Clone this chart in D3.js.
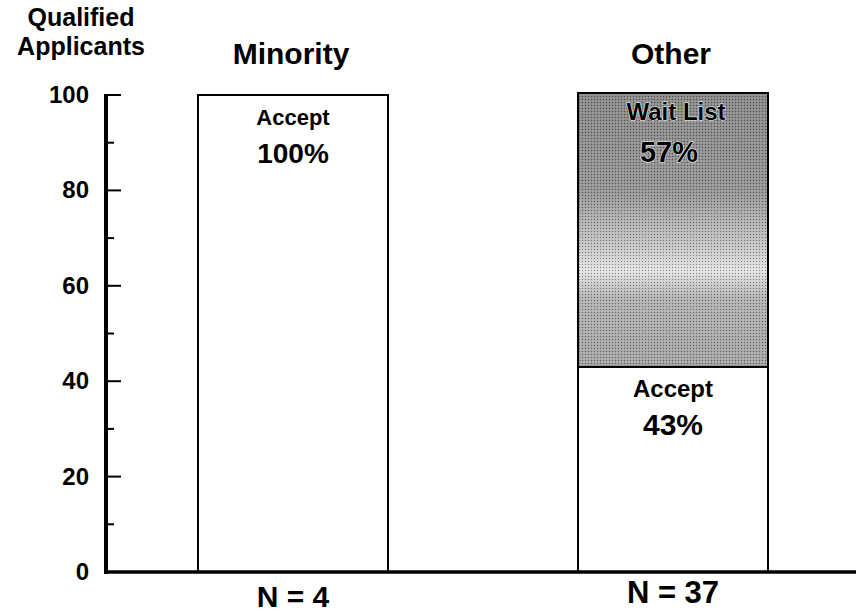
<!DOCTYPE html>
<html><head><meta charset="utf-8">
<script src="https://cdn.jsdelivr.net/npm/d3@7"></script>
<style>body{margin:0;background:#fff}text{font-family:"Liberation Sans",Arial,sans-serif;fill:#000;font-weight:bold}</style>
</head><body><svg id="c" width="856" height="614"></svg>
<script>
const categories = ["Minority", "Other"];
const nLabels = ["N = 4", "N = 37"];
const acceptValues = [100, 43];
const waitListValues = [0, 57];
const yTicks = [0, 20, 40, 60, 80, 100];
const yMinorTicks = [10, 30, 50, 70, 90];

const svg = d3.select("#c");
const y = d3.scaleLinear().domain([0, 100]).range([572, 95]);
const x = d3.scaleBand().domain(categories).range([103, 863]).paddingInner(0.5).paddingOuter(0.25);

const defs = svg.append("defs");
const g = defs.append("linearGradient").attr("id","wl").attr("x1",0).attr("y1",0).attr("x2",0).attr("y2",1);
[[0,"#868686"],[0.35,"#929292"],[0.55,"#c2c2c2"],[0.65,"#e2e2e2"],[0.75,"#b0b0b0"],[1,"#a2a2a2"]].forEach(s=>g.append("stop").attr("offset",s[0]).attr("stop-color",s[1]));
const p = defs.append("pattern").attr("id","dots").attr("width",3).attr("height",3).attr("patternUnits","userSpaceOnUse");
p.append("rect").attr("x",0).attr("y",0).attr("width",1).attr("height",1).attr("fill","#000").attr("opacity",0.4);
p.append("rect").attr("x",1.5).attr("y",1.5).attr("width",1).attr("height",1).attr("fill","#fff").attr("opacity",0.5);

// Accept bars
svg.selectAll("rect.acc").data(categories).join("rect")
  .attr("x", d=>x(d)).attr("width", x.bandwidth())
  .attr("y", (d,i)=>y(acceptValues[i])).attr("height",(d,i)=>y(0)-y(acceptValues[i]))
  .attr("fill","#fff").attr("stroke","#000").attr("stroke-width",2);
// Wait list
const wl = categories.map((d,i)=>({d, v0:acceptValues[i], v1:acceptValues[i]+waitListValues[i], v:waitListValues[i]})).filter(o=>o.v>0);
wl.forEach(o=>{
  svg.append("rect").attr("x",x(o.d)).attr("width",x.bandwidth()).attr("y",y(o.v1)-2).attr("height",y(o.v0)-y(o.v1)+2).attr("fill","url(#wl)");
  svg.append("rect").attr("x",x(o.d)).attr("width",x.bandwidth()).attr("y",y(o.v1)-2).attr("height",y(o.v0)-y(o.v1)+2).attr("fill","url(#dots)").attr("stroke","#000").attr("stroke-width",2);
});

// Axis
const ax = svg.append("g");
ax.append("line").attr("x1",106).attr("x2",106).attr("y1",y(100)-1).attr("y2",y(0)+2).attr("stroke","#000").attr("stroke-width",4);
ax.append("line").attr("x1",104).attr("x2",856).attr("y1",y(0)).attr("y2",y(0)).attr("stroke","#000").attr("stroke-width",3.5);
yTicks.forEach(t=>{
  if(t>0) ax.append("line").attr("x1",106).attr("x2",121).attr("y1",y(t)).attr("y2",y(t)).attr("stroke","#000").attr("stroke-width",2);
  ax.append("text").attr("x",89).attr("y",y(t)+8).attr("text-anchor","end").attr("font-size",24).text(t);
});
yMinorTicks.forEach(t=>ax.append("line").attr("x1",106).attr("x2",114).attr("y1",y(t)).attr("y2",y(t)).attr("stroke","#000").attr("stroke-width",2));

// Titles
svg.append("text").attr("x",81).attr("y",26).attr("text-anchor","middle").attr("font-size",25).text("Qualified");
svg.append("text").attr("x",81).attr("y",55).attr("text-anchor","middle").attr("font-size",25).text("Applicants");
const capSize = [22, 24], pctSize = [28, 30], nSize = [30, 31], nY = [607, 603];
categories.forEach((c,i)=>{
  const cx = x(c)+x.bandwidth()/2;
  svg.append("text").attr("x",cx-2).attr("y",64).attr("text-anchor","middle").attr("font-size",30).text(c);
  svg.append("text").attr("x",cx).attr("y",nY[i]).attr("text-anchor","middle").attr("font-size",nSize[i]).text(nLabels[i]);
  const top = y(acceptValues[i]);
  svg.append("text").attr("x",cx).attr("y",top+30).attr("text-anchor","middle").attr("font-size",capSize[i]).text("Accept");
  svg.append("text").attr("x",cx).attr("y",top+68).attr("text-anchor","middle").attr("font-size",pctSize[i]).text(acceptValues[i]+"%");
});
wl.forEach(o=>{
  const cx = x(o.d)+x.bandwidth()/2, top=y(o.v1);
  svg.append("text").attr("x",cx+3).attr("y",top+25).attr("text-anchor","middle").attr("font-size",24).attr("stroke","#fff").attr("stroke-width",1).attr("paint-order","stroke").text("Wait List");
  svg.append("text").attr("x",cx-4).attr("y",top+67).attr("text-anchor","middle").attr("font-size",29).attr("stroke","#fff").attr("stroke-width",1).attr("paint-order","stroke").text(o.v+"%");
});
</script></body></html>
